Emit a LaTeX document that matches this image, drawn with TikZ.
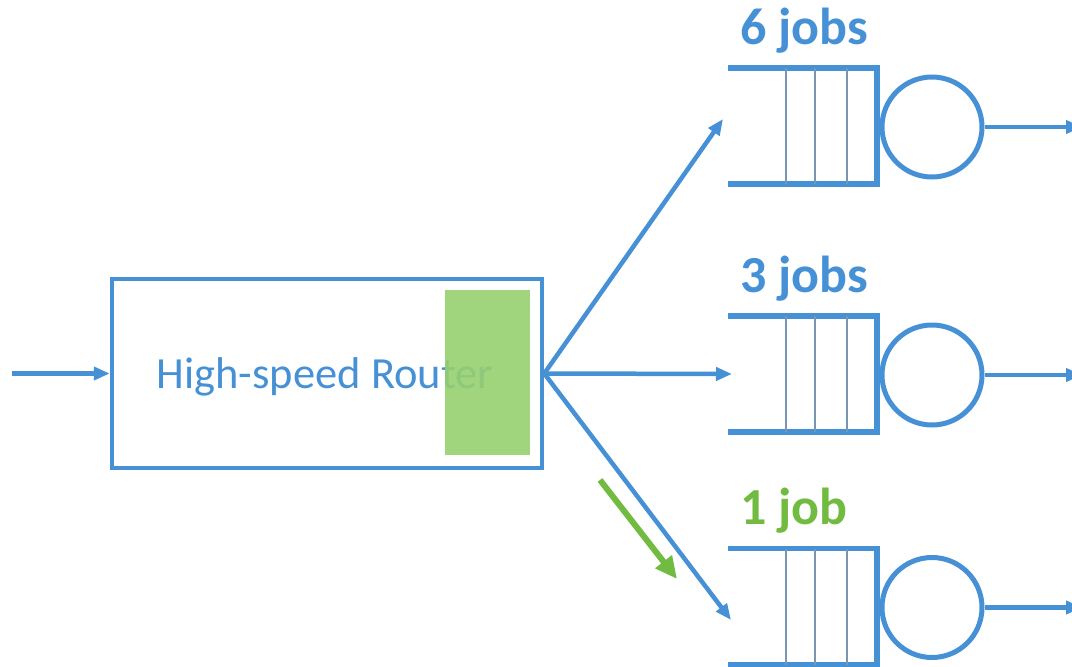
\documentclass[tikz,border=0pt]{standalone}
\usepackage{fontspec}
\setmainfont{Carlito}
\usetikzlibrary{arrows.meta}
\definecolor{qblue}{RGB}{70,145,214}
\definecolor{qgreen}{RGB}{112,187,64}
\definecolor{boxgreen}{RGB}{150,208,112}
\definecolor{divgray}{RGB}{120,150,180}
\tikzset{
  link/.style={qblue,line width=4.5pt,-{Triangle[length=16pt,width=13pt]}},
  queueline/.style={qblue,line width=5.5pt},
  slot/.style={divgray,line width=1.6pt},
  server/.style={circle,draw=qblue,line width=5pt,minimum size=100pt,inner sep=0pt},
  joblabel/.style={anchor=base west,font=\fontsize{52}{62}\selectfont\bfseries}
}
\begin{document}
\begin{tikzpicture}[x=1pt,y=-1pt]
\useasboundingbox (0,0) rectangle (1072,667);

% router
\node[draw=qblue,line width=4.5pt,minimum width=430pt,minimum height=189pt,inner sep=0pt] (router) at (327,373.5) {};
\node[text=qblue,font=\fontsize{44.5}{52}\selectfont] (rtext) at (325,377) {High-speed Router};
\fill[boxgreen,opacity=0.9] (445,290) rectangle (530,455);
\coordinate (src) at (12,373.5);
\draw[link] (src) -- (router.west);

% queues
\foreach \yc/\lab/\col/\nm in {126/6 jobs/qblue/a,374/3 jobs/qblue/b,606.5/1 job/qgreen/c}{
  \draw[queueline] (728,\yc-58) -- (877,\yc-58) -- (877,\yc+58) -- (728,\yc+58);
  \foreach \sx in {786,815,847} \draw[slot] (\sx,\yc-58) -- (\sx,\yc+58);
  \node[server] (srv-\nm) at (932,\yc+1) {};
  \node[joblabel,text=\col] (lab-\nm) at (737,\yc-82) {\lab};
  \coordinate (out-\nm) at (1082,\yc+1);
  \draw[link] (srv-\nm.east) -- (out-\nm);
}

% dispatch
\coordinate (in-a) at (723,119);
\coordinate (in-b) at (732,374);
\coordinate (in-c) at (731,620);
\draw[link] (router.east) -- (in-a);
\draw[link] (router.east) -- (in-b);
\draw[link] (router.east) -- (in-c);

\coordinate (hint-s) at (600,480);
\coordinate (hint-e) at (677,579);
\draw[qgreen,line width=6pt,-{Triangle[length=22pt,width=20pt]}] (hint-s) -- (hint-e);

\end{tikzpicture}
\end{document}
